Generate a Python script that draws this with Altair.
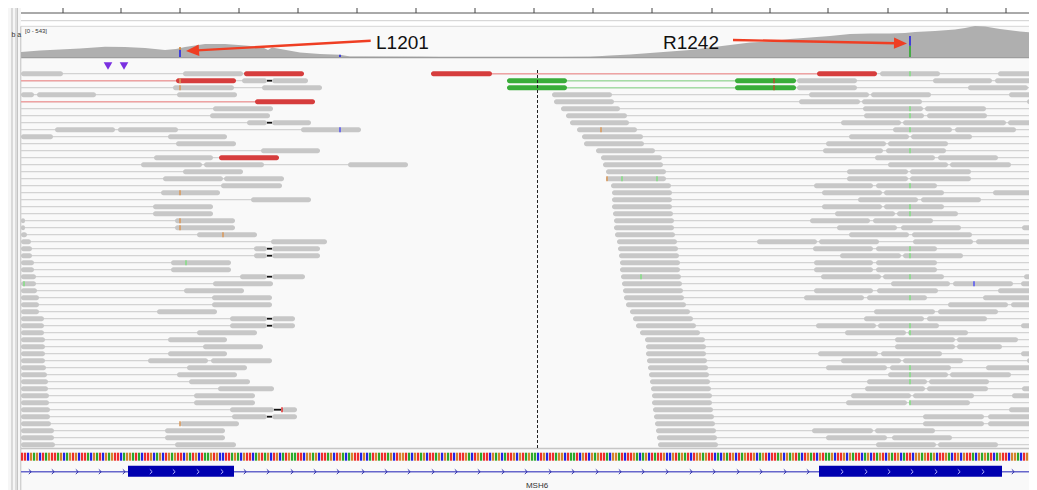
import math
import altair as alt
import pandas as pd

# ---------------- values ----------------
RULER_TICKS = [63, 121, 180, 239, 298, 357, 416, 475, 534, 593, 652, 712, 770, 828, 888, 947, 1006]

COV_POS = [21, 40, 60, 80, 105, 125, 145, 165, 176, 185, 205, 225, 245, 262, 268, 272, 300, 320, 340, 350,
           360, 420, 440, 560, 590, 610, 630, 650, 670, 690, 710, 730, 750, 770, 790, 810, 830, 850, 870, 890,
           905, 915, 935, 955, 965, 975, 985, 1000, 1020, 1037]
COV_DEPTH = [88, 114, 131, 149, 180, 175, 158, 123, 140, 175, 228, 228, 201, 175, 123, 166, 79, 53, 40, 9,
             9, 5, 0, 0, 4, 26, 44, 70, 96, 123, 166, 210, 254, 271, 315, 341, 368, 403, 411, 411,
             420, 438, 455, 481, 508, 543, 534, 490, 446, 420]
COV_LABEL = "[0 - 543]"
COV_MAX = 543

ALLELE_POS = [180, 180, 340, 910, 910]
ALLELE_LO = [0, 125, 0, 0, 195]
ALLELE_HI = [125, 175, 40, 195, 370]
ALLELE_BASE = ["C", "G", "C", "A", "C"]

INSERTION_POS = [108, 124]

READS_RED = [(0, 244, 304), (0, 431, 492), (0, 817, 877), (1, 176, 236), (4, 255, 315), (12, 219, 279)]
READS_GREEN = [(1, 507, 567), (1, 735, 796), (2, 507, 567), (2, 735, 796)]
READS_GRAY = [
    (0, 21, 63), (0, 183, 243), (0, 880, 940), (0, 998, 1037),
    (1, 242, 267), (1, 272, 308), (1, 797, 857), (1, 933, 992), (1, 995, 1037),
    (2, 173, 234), (2, 262, 322), (2, 797, 857), (2, 968, 1028), (2, 1031, 1037),
    (3, 21, 34), (3, 37, 96), (3, 177, 237), (3, 552, 612), (3, 809, 869), (3, 871, 931), (3, 1009, 1037),
    (4, 554, 614), (4, 799, 860), (4, 862, 922), (4, 1027, 1037),
    (5, 213, 273), (5, 561, 620), (5, 863, 923), (5, 925, 986),
    (6, 210, 270), (6, 566, 627), (6, 864, 924), (6, 927, 987),
    (7, 247, 267), (7, 272, 311), (7, 570, 629), (7, 841, 901), (7, 903, 1006), (7, 1008, 1037),
    (8, 55, 115), (8, 118, 178), (8, 301, 361), (8, 577, 637), (8, 893, 952), (8, 955, 1016),
    (9, 21, 53), (9, 168, 227), (9, 582, 643), (9, 849, 909), (9, 911, 972),
    (10, 176, 236), (10, 584, 644), (10, 826, 886), (10, 888, 948),
    (11, 261, 320), (11, 596, 655), (11, 823, 883), (11, 886, 946),
    (12, 154, 213), (12, 601, 662), (12, 875, 935), (12, 938, 998),
    (13, 141, 202), (13, 204, 264), (13, 348, 408), (13, 603, 663), (13, 888, 948), (13, 950, 1011),
    (14, 183, 243), (14, 606, 666), (14, 847, 908), (14, 910, 971),
    (15, 163, 223), (15, 224, 284), (15, 606, 666), (15, 847, 908), (15, 910, 971),
    (16, 221, 282), (16, 611, 671), (16, 814, 873), (16, 876, 937),
    (17, 161, 220), (17, 612, 672), (17, 822, 882), (17, 884, 944), (17, 993, 1037),
    (18, 251, 311), (18, 612, 672), (18, 858, 918), (18, 921, 981),
    (19, 153, 213), (19, 612, 672), (19, 822, 882), (19, 884, 944),
    (20, 153, 213), (20, 613, 673), (20, 835, 895), (20, 897, 958),
    (21, 21, 25), (21, 175, 235), (21, 614, 674), (21, 810, 870), (21, 873, 933),
    (22, 21, 25), (22, 175, 235), (22, 614, 674), (22, 837, 897), (22, 901, 961), (22, 1022, 1037),
    (23, 21, 27), (23, 197, 257), (23, 615, 675), (23, 849, 909), (23, 912, 972),
    (24, 21, 31), (24, 271, 327), (24, 617, 677), (24, 757, 817), (24, 819, 879), (24, 913, 973), (24, 976, 1037),
    (25, 21, 32), (25, 254, 267), (25, 272, 320), (25, 618, 678), (25, 813, 873), (25, 876, 937),
    (26, 21, 32), (26, 254, 267), (26, 272, 320), (26, 619, 679), (26, 840, 901), (26, 903, 963),
    (27, 21, 34), (27, 171, 231), (27, 620, 680), (27, 814, 873), (27, 876, 937),
    (28, 21, 34), (28, 171, 231), (28, 620, 680), (28, 814, 873), (28, 876, 937), (28, 1032, 1037),
    (29, 21, 36), (29, 240, 267), (29, 272, 305), (29, 621, 681), (29, 821, 881), (29, 883, 944), (29, 1024, 1037),
    (30, 21, 36), (30, 213, 273), (30, 622, 682), (30, 891, 950), (30, 953, 1013), (30, 1021, 1037),
    (31, 21, 37), (31, 184, 244), (31, 623, 683), (31, 814, 873), (31, 877, 938), (31, 998, 1037),
    (32, 21, 39), (32, 212, 272), (32, 624, 684), (32, 804, 864), (32, 867, 927), (32, 983, 1037),
    (33, 21, 39), (33, 212, 272), (33, 626, 686), (33, 948, 1008), (33, 1011, 1037),
    (34, 21, 39), (34, 157, 217), (34, 630, 690), (34, 874, 935), (34, 938, 998),
    (35, 21, 44), (35, 230, 267), (35, 272, 295), (35, 633, 693), (35, 864, 924), (35, 927, 987),
    (36, 21, 44), (36, 230, 267), (36, 272, 295), (36, 636, 696), (36, 816, 876), (36, 878, 939), (36, 1021, 1037),
    (37, 21, 44), (37, 197, 257), (37, 640, 700), (37, 845, 906), (37, 908, 968),
    (38, 21, 45), (38, 168, 227), (38, 645, 705), (38, 895, 955), (38, 957, 1018),
    (39, 21, 45), (39, 203, 263), (39, 646, 706), (39, 895, 955), (39, 957, 1002),
    (40, 21, 45), (40, 168, 227), (40, 646, 706), (40, 818, 878), (40, 881, 942), (40, 1021, 1037),
    (41, 21, 45), (41, 148, 208), (41, 211, 272), (41, 647, 707), (41, 841, 901), (41, 903, 963), (41, 1027, 1037),
    (42, 21, 46), (42, 187, 247), (42, 648, 708), (42, 826, 887), (42, 890, 951), (42, 986, 1037),
    (43, 21, 47), (43, 177, 237), (43, 649, 709), (43, 888, 948), (43, 950, 1011),
    (44, 21, 48), (44, 189, 250), (44, 650, 710), (44, 867, 927), (44, 929, 989),
    (45, 21, 48), (45, 218, 274), (45, 651, 711), (45, 865, 925), (45, 927, 988), (45, 1022, 1037),
    (46, 21, 49), (46, 194, 255), (46, 652, 712), (46, 851, 911), (46, 913, 974), (46, 1012, 1037),
    (47, 21, 49), (47, 194, 255), (47, 652, 712), (47, 846, 907), (47, 909, 970),
    (48, 21, 50), (48, 230, 274), (48, 282, 297), (48, 653, 713), (48, 1009, 1037),
    (49, 21, 50), (49, 232, 267), (49, 272, 297), (49, 654, 714), (49, 923, 984), (49, 988, 1037),
    (50, 21, 51), (50, 180, 239), (50, 655, 715), (50, 923, 984), (50, 988, 1037),
    (51, 21, 54), (51, 165, 225), (51, 656, 716), (51, 812, 873), (51, 875, 935),
    (52, 21, 54), (52, 165, 225), (52, 657, 717), (52, 826, 887), (52, 892, 952),
    (53, 21, 55), (53, 175, 236), (53, 658, 718), (53, 876, 936), (53, 938, 998),
]
DELETIONS = [(1, 267, 272), (7, 267, 272), (25, 267, 272), (26, 267, 272), (29, 267, 272),
             (35, 267, 272), (36, 267, 272), (48, 274, 281), (49, 267, 272)]
MISMATCHES = [(1, 180, "G"), (2, 180, "G"), (1, 774, "x"), (2, 774, "x"), (0, 910, "A"), (5, 910, "A"),
              (6, 910, "A"), (8, 340, "C"), (8, 601, "G"), (8, 910, "A"), (11, 910, "A"), (15, 607, "G"),
              (15, 622, "A"), (15, 657, "A"), (16, 910, "A"), (17, 180, "G"), (19, 910, "A"), (20, 910, "A"),
              (21, 180, "G"), (22, 180, "G"), (23, 223, "G"), (25, 910, "A"), (26, 910, "A"), (27, 186, "A"),
              (29, 910, "A"), (29, 641, "A"), (30, 24, "A"), (30, 974, "C"), (32, 910, "A"), (36, 910, "A"),
              (37, 910, "A"), (42, 910, "A"), (43, 910, "A"), (44, 910, "A"), (47, 910, "A"), (48, 282, "T"),
              (50, 180, "G")]
RED_LINKS = [(0, 492, 817), (1, 21, 176), (4, 21, 255)]
GREEN_LINKS = [(1, 567, 735), (2, 567, 735)]
CENTER_POS = 537.5

SEQ_CHUNKS = ["TTCGAGCTAG", "TTAGCAGTGC", "TTACGATCGA", "GTTCAGGATA", "CTTGCAGCTG", "AGTTCGATGC",
              "TAAGTGCCTT", "AGACGTTCAG", "TAGCTGCATG", "AATTCGGAGC", "TTAGCTGACA", "GTTCGCATGA",
              "TTAGCTGGTA", "CGTAGCTTAG", "CGATCGTTGA", "CTGATTCGAG", "CATTGCGTAG", "AACTGCTTAG",
              "GCTAATCGTC", "GAGTTACGGA", "TCTTGACAGC", "TATTGCCGTA", "GATCTGGAGT", "TCACGATGCT",
              "AGTTGCAGTC", "TTAGCGAGTA", "CTGATCGTAA", "GCTTGCGATT", "CAGCTAGTCG", "ATGCATTCGG",
              "AGTAGCTTGA", "CTGCGTTACG", "AGATCAGTTC", "GGACTGATTG"]
SEQ_START = 21
BASE_SPAN = 3.0

GENE_NAME = "MSH6"
GENE_START, GENE_END = 21, 1037
EXON_START = [128, 819]
EXON_END = [234, 1002]
INTRON_ARROWS = [30, 53, 77, 100, 124, 245, 268, 292, 315, 338, 363, 386, 409, 433, 456, 479, 503, 526,
                 550, 573, 597, 620, 643, 667, 691, 714, 738, 761, 785, 808, 1013, 1035]
EXON_ARROWS = [151, 174, 198, 222, 842, 866, 889, 912, 936, 959, 983]

VARIANT_NAMES = ["L1201", "R1242"]
VARIANT_POS = [186, 907]

# ---------------- layout ----------------
# the page keeps an 8px margin, so the drawable window is 8..1029 horizontally
X0, X1, Y0, Y1 = 8, 1029, 8, 490
XEND = 1037
ROW0, ROW_H, READ_H = 73.7, 7.0, 5.0
COV_BASE, COV_PX = 57.0, 31.0
LABEL_X = [376, 663]
LABEL_Y = 48.5
ARROW_TAIL = [(370.7, 40.7), (733.0, 40.0)]
ARROW_TIP_Y = [51.0, 43.4]
HEAD_LEN = 13.0

BASE_COL = {"A": "#2ba82b", "C": "#2424e4", "G": "#d5822c", "T": "#ee2c2c"}
MM_COL = {"A": "#86dc86", "C": "#5a5af0", "G": "#d99a5e", "T": "#e03636", "x": "#b0522c"}
READ_COL = {"g": "#c7c7c7", "r": "#d63d3d", "G": "#3aad3a"}

XS = alt.Scale(domain=[X0, X1], nice=False, zero=False)
YS = alt.Scale(domain=[Y0, Y1], nice=False, zero=False, reverse=True)


def ex(f):
    return alt.X(f"{f}:Q", scale=XS, axis=None)


def ey(f):
    return alt.Y(f"{f}:Q", scale=YS, axis=None)


def rects(df, **mk):
    return alt.Chart(df).mark_rect(clip=True, **mk).encode(
        x=ex("x1"), x2=alt.X2("x2:Q"), y=ey("y1"), y2=alt.Y2("y2:Q"),
        color=alt.Color("col:N", scale=None))


def hrules(df, **mk):
    return alt.Chart(df).mark_rule(clip=True, **mk).encode(
        x=ex("x1"), x2=alt.X2("x2:Q"), y=ey("y"),
        color=alt.Color("col:N", scale=None),
        strokeWidth=alt.StrokeWidth("w:Q", scale=None))


def vrules(df, **mk):
    return alt.Chart(df).mark_rule(clip=True, **mk).encode(
        x=ex("x"), y=ey("y1"), y2=alt.Y2("y2:Q"),
        color=alt.Color("col:N", scale=None),
        strokeWidth=alt.StrokeWidth("w:Q", scale=None))


def rowy(r):
    return ROW0 + r * ROW_H


layers = []

# backgrounds
frame = pd.DataFrame([
    dict(x1=X0, x2=21, y1=Y0, y2=Y1, col="#f6f6f6"),
    dict(x1=21, x2=XEND, y1=26.3, y2=Y1, col="#f9f9f9"),
])
layers.append(rects(frame))

# ruler
ruler_line = pd.DataFrame([dict(x1=21, x2=XEND, y=13, col="#555555", w=1)])
layers.append(hrules(ruler_line))
ticks = pd.DataFrame({"x": RULER_TICKS, "y1": 7, "y2": 13, "col": "#444444", "w": 1})
layers.append(vrules(ticks))

# panel dividers
dividers = pd.DataFrame([
    dict(x1=21, x2=XEND, y=20.7, col="#cfcfcf", w=1),
    dict(x1=21, x2=XEND, y=26.3, col="#d6d6d6", w=1),
    dict(x1=21, x2=XEND, y=57.5, col="#9d9d9d", w=1.5),
    dict(x1=21, x2=XEND, y=448.5, col="#c6c6c6", w=1.5),
])
layers.append(hrules(dividers))
vlines = pd.DataFrame([
    dict(x=12, y1=Y0, y2=Y1, col="#bdbdbd", w=1),
    dict(x=16, y1=Y0, y2=Y1, col="#c4c4c4", w=1),
    dict(x=17.5, y1=Y0, y2=Y1, col="#c4c4c4", w=1),
    dict(x=20.8, y1=26.3, y2=Y1, col="#c2c2c2", w=1),
])
layers.append(vrules(vlines))

# coverage
cov = pd.DataFrame({"pos": COV_POS, "depth": COV_DEPTH})
cov["top"] = COV_BASE - cov["depth"] / COV_MAX * COV_PX
cov["base"] = COV_BASE
layers.append(alt.Chart(cov).mark_area(color="#afafaf", interpolate="linear", clip=True).encode(
    x=ex("pos"), y=ey("top"), y2=alt.Y2("base:Q")))

al = pd.DataFrame({"pos": ALLELE_POS, "lo": ALLELE_LO, "hi": ALLELE_HI, "b": ALLELE_BASE})
al["x1"] = al["pos"] - 0.8
al["x2"] = al["pos"] + 0.8
al["y1"] = COV_BASE - al["hi"] / COV_MAX * COV_PX
al["y2"] = COV_BASE - al["lo"] / COV_MAX * COV_PX
al["col"] = al["b"].map(BASE_COL)
layers.append(rects(al))

# insertion markers
ins = pd.DataFrame({"pos": INSERTION_POS, "y": 66.0})
layers.append(alt.Chart(ins).mark_point(shape="triangle-down", filled=True, size=75, color="#7a30e0",
                                        opacity=1).encode(x=ex("pos"), y=ey("y")))

# reads
reads = pd.concat([
    pd.DataFrame(READS_GRAY, columns=["row", "x1", "x2"]).assign(kind="g"),
    pd.DataFrame(READS_RED, columns=["row", "x1", "x2"]).assign(kind="r"),
    pd.DataFrame(READS_GREEN, columns=["row", "x1", "x2"]).assign(kind="G"),
], ignore_index=True)
reads["yc"] = rowy(reads["row"])
reads["y1"] = reads["yc"] - READ_H / 2
reads["y2"] = reads["yc"] + READ_H / 2
reads["col"] = reads["kind"].map(READ_COL)

# pair connection lines
links = []
for r, grp in reads.groupby("row"):
    left = grp[grp["x1"] < 420]
    right = grp[grp["x1"] >= 420]
    if len(left):
        links.append(dict(x1=21, x2=left["x2"].max(), y=rowy(r), col="#d3d3d3", w=1.2))
    if len(right):
        links.append(dict(x1=right["x1"].min(), x2=XEND, y=rowy(r), col="#d3d3d3", w=1.2))
for r, a, b in RED_LINKS:
    links.append(dict(x1=a, x2=b, y=rowy(r), col="#eea3a3", w=1.4))
for r, a, b in GREEN_LINKS:
    links.append(dict(x1=a, x2=b, y=rowy(r), col="#a6dca6", w=1.4))
layers.append(hrules(pd.DataFrame(links)))

layers.append(rects(reads[["x1", "x2", "y1", "y2", "col"]], cornerRadius=2.4))

mm = pd.DataFrame(MISMATCHES, columns=["row", "pos", "b"])
mm["x1"] = mm["pos"] - 0.8
mm["x2"] = mm["pos"] + 0.8
mm["y1"] = rowy(mm["row"]) - READ_H / 2
mm["y2"] = rowy(mm["row"]) + READ_H / 2
mm["col"] = mm["b"].map(MM_COL)
layers.append(rects(mm))

dels = pd.DataFrame(DELETIONS, columns=["row", "x1", "x2"])
dels["y"] = rowy(dels["row"])
dels["col"] = "#111111"
dels["w"] = 1.8
layers.append(hrules(dels))

# center line
center = pd.DataFrame([dict(x=CENTER_POS, y1=70, y2=448, col="#222222", w=1)])
layers.append(vrules(center, strokeDash=[3, 2]))

# reference sequence
seq = "".join(SEQ_CHUNKS)
n_bases = int((XEND - SEQ_START) // BASE_SPAN)
sq = pd.DataFrame({"b": list(seq[:n_bases])})
sq["x1"] = SEQ_START + sq.index * BASE_SPAN
sq["x2"] = sq["x1"] + 2.2
sq["y1"] = 452.7
sq["y2"] = 460.7
sq["col"] = sq["b"].map(BASE_COL)
layers.append(rects(sq))

# gene track
gl = pd.DataFrame([dict(x1=GENE_START, x2=GENE_END, y=471.7, col="#6767cc", w=1.5)])
layers.append(hrules(gl))
ex_df = pd.DataFrame({"x1": EXON_START, "x2": EXON_END, "y1": 465.7, "y2": 476.7, "col": "#0000b0"})
layers.append(rects(ex_df))
chev_path = "M -0.5 -1 L 0.5 0 L -0.5 1"
ia = pd.DataFrame({"pos": INTRON_ARROWS, "y": 471.7})
layers.append(alt.Chart(ia).mark_point(shape=chev_path, filled=False, size=22, color="#2a2aa8",
                                       strokeWidth=1, opacity=1, clip=True).encode(x=ex("pos"), y=ey("y")))
ea = pd.DataFrame({"pos": EXON_ARROWS, "y": 471.7})
layers.append(alt.Chart(ea).mark_point(shape=chev_path, filled=False, size=22, color="#b8b8ff",
                                       strokeWidth=1, opacity=1).encode(x=ex("pos"), y=ey("y")))

# text labels
small = pd.DataFrame([
    dict(x=25, y=32.5, t=COV_LABEL, s=6),
    dict(x=11.5, y=37.2, t="b a", s=7),
])
layers.append(alt.Chart(small).mark_text(align="left", baseline="alphabetic", font="Liberation Sans",
                                         color="#333333").encode(
    x=ex("x"), y=ey("y"), text="t:N", size=alt.Size("s:Q", scale=None)))
gname = pd.DataFrame([dict(x=(GENE_START + GENE_END) / 2 + 8, y=488.3, t=GENE_NAME)])
layers.append(alt.Chart(gname).mark_text(align="center", baseline="alphabetic", font="Liberation Sans",
                                         fontSize=8, color="#333333").encode(x=ex("x"), y=ey("y"), text="t:N"))

# arrows + variant labels
arr_lines, heads = [], []
for (tx, ty), tipx, tipy in zip(ARROW_TAIL, VARIANT_POS, ARROW_TIP_Y):
    dx, dy = tipx - tx, tipy - ty
    L = math.hypot(dx, dy)
    bx, by = tipx - dx / L * (HEAD_LEN - 2), tipy - dy / L * (HEAD_LEN - 2)
    arr_lines.append(dict(x1=tx, y1=ty, x2=bx, y2=by))
    heads.append(dict(x=tipx, y=tipy, ang=math.degrees(math.atan2(dy, dx))))
arr_df = pd.DataFrame(arr_lines)
layers.append(alt.Chart(arr_df).mark_rule(color="#ef3e23", strokeWidth=2.4).encode(
    x=ex("x1"), x2=alt.X2("x2:Q"), y=ey("y1"), y2=alt.Y2("y2:Q")))
head_df = pd.DataFrame(heads)
layers.append(alt.Chart(head_df).mark_point(shape="M 0 0 L -1 -0.44 L -1 0.44 Z", filled=True,
                                            size=(2 * HEAD_LEN) ** 2, color="#ef3e23", opacity=1).encode(
    x=ex("x"), y=ey("y"), angle=alt.Angle("ang:Q", scale=None)))
lab = pd.DataFrame({"x": LABEL_X, "y": LABEL_Y, "t": VARIANT_NAMES})
layers.append(alt.Chart(lab).mark_text(align="left", baseline="alphabetic", font="Liberation Sans",
                                       fontSize=19, color="#111111").encode(x=ex("x"), y=ey("y"), text="t:N"))

chart = alt.layer(*layers).properties(
    width=X1 - X0, height=Y1 - Y0, padding=0, autosize=alt.AutoSizeParams(type="none"), background="white"
).configure_view(strokeWidth=0)

chart.save("out.html", embed_options={"renderer": "svg", "actions": False})
